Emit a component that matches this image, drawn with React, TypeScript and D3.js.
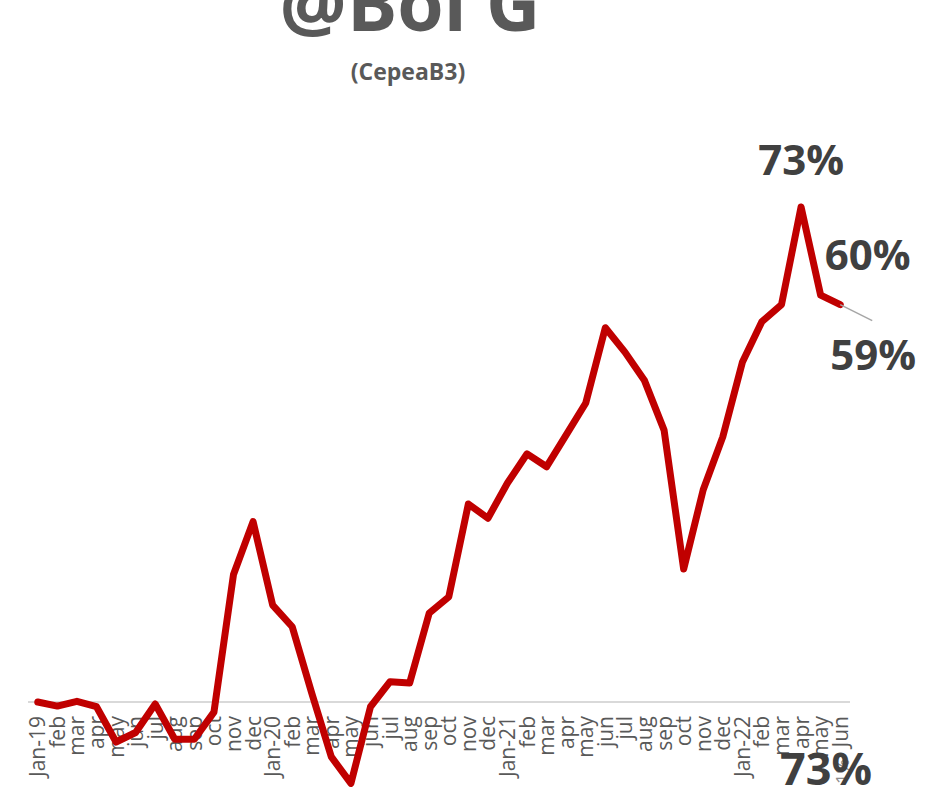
import React from "react";
import * as d3 from "d3";

const categories = [
  "Jan-19", "feb", "mar", "apr", "may", "jun", "jul", "aug", "sep", "oct", "nov", "dec",
  "Jan-20", "feb", "mar", "apr", "may", "jun", "jul", "aug", "sep", "oct", "nov", "dec",
  "Jan-21", "feb", "mar", "apr", "may", "jun", "jul", "aug", "sep", "oct", "nov", "dec",
  "Jan-22", "feb", "mar", "apr", "may", "Jun",
];

const values = [
  0, -0.6, 0.1, -0.7, -5.9, -4.5, -0.3, -5.5, -5.5, -1.5, 18.8, 26.6,
  14.3, 11.1, 1.3, -8.1, -12.0, -0.7, 3.0, 2.8, 13.1, 15.5, 29.2, 27.1,
  32.3, 36.6, 34.7, 39.4, 44.1, 55.2, 51.6, 47.4, 40.1, 19.6, 31.3, 39.1,
  50.1, 56.1, 58.6, 73.0, 60.0, 58.6,
];

const labelled = [39, 40, 41];
const title = "@Boi G";
const subtitle = "(CepeaB3)";

const W = 938;
const H = 789;

export default function App() {
  const x = d3.scaleBand<number>()
    .domain(categories.map((_, i) => i))
    .range([28, 850]);
  const cx = (i: number) => (x(i) as number) + x.bandwidth() / 2;
  const y = d3.scaleLinear().domain([0, 73]).range([702, 207]);

  const line = d3.line<number>()
    .x((_, i) => cx(i))
    .y((d) => y(d));

  const fmt = (v: number) => `${Math.round(v)}%`;
  const font = "'Open Sans', sans-serif";

  const labelPos: Record<number, { dx: number; dy: number; anchor: string }> = {
    39: { dx: 0, dy: -32, anchor: "middle" },
    40: { dx: 47, dy: -25, anchor: "middle" },
    41: { dx: 33, dy: 65, anchor: "middle" },
  };

  return (
    <svg width={W} height={H} style={{ position: "absolute", left: 0, top: 0, background: "#fff" }}>
      <text x={410} y={31} textAnchor="middle" fontFamily={font} fontWeight={700} fontSize={75} fill="#595959">
        {title}
      </text>
      <text x={408} y={80} textAnchor="middle" fontFamily={font} fontWeight={700} fontSize={23} fill="#595959">
        {subtitle}
      </text>

      <line x1={28} x2={850} y1={y(0)} y2={y(0)} stroke="#d9d9d9" strokeWidth={2} />

      {categories.map((c, i) => (
        <text
          key={i}
          transform={`translate(${cx(i)},${y(0) + 14}) rotate(-90)`}
          textAnchor="end"
          dy="0.36em"
          fontFamily={font}
          fontSize={21}
          fill="#595959"
        >
          {c}
        </text>
      ))}

      <path d={line(values) || ""} fill="none" stroke="#c00000" strokeWidth={7} strokeLinejoin="round" strokeLinecap="round" />

      <line
        x1={cx(41)}
        y1={y(values[41])}
        x2={cx(41) + 32}
        y2={y(values[41]) + 16}
        stroke="#a6a6a6"
        strokeWidth={1.5}
      />

      {labelled.map((i) => (
        <text
          key={i}
          x={cx(i) + labelPos[i].dx}
          y={y(values[i]) + labelPos[i].dy}
          textAnchor={labelPos[i].anchor as any}
          fontFamily={font}
          fontWeight={700}
          fontSize={42}
          fill="#404040"
        >
          {fmt(values[i])}
        </text>
      ))}

      <text
        transform={`translate(${cx(41) + 2},${784}) rotate(-90)`}
        dy="0.36em"
        fontFamily={font}
        fontSize={18}
        fill="#8c8c8c"
      >
        1%
      </text>
      <text x={826} y={785} textAnchor="middle" fontFamily={font} fontWeight={700} fontSize={45} fill="#404040">
        {fmt(values[39])}
      </text>
    </svg>
  );
}
